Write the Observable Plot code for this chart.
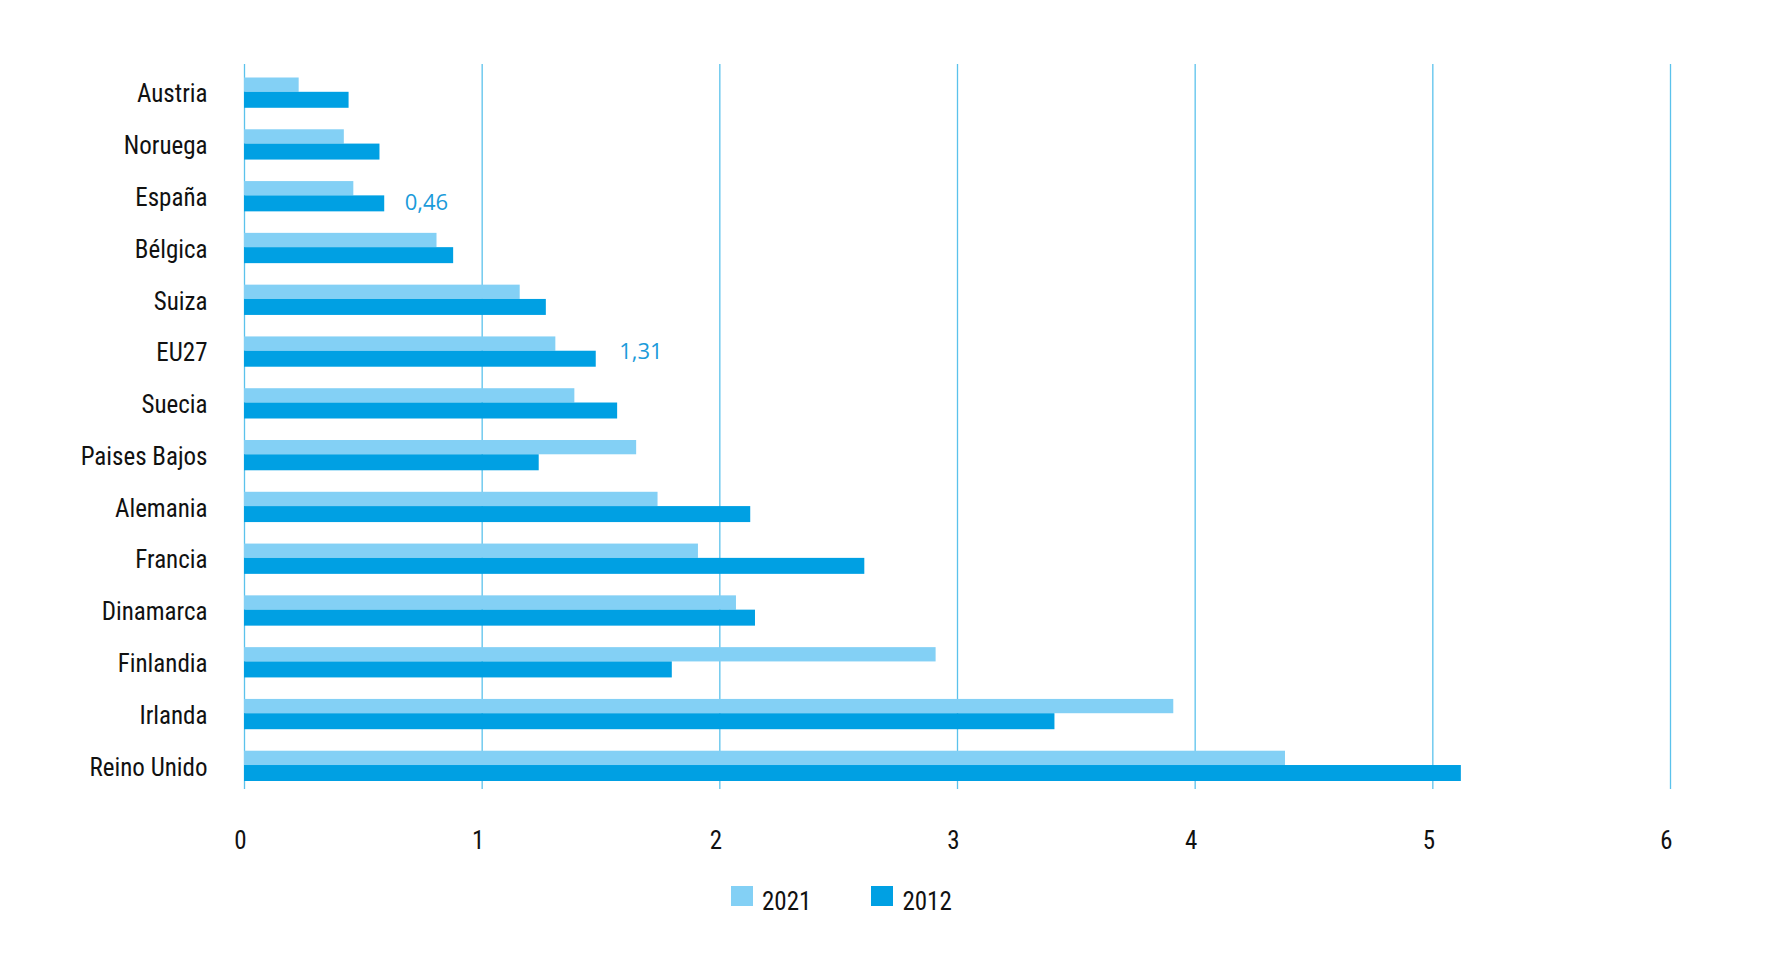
<!DOCTYPE html>
<html>
<head>
<meta charset="utf-8">
<script src="https://cdn.jsdelivr.net/npm/d3@7"></script>
<script src="https://cdn.jsdelivr.net/npm/@observablehq/plot@0.6"></script>
<style>
  html, body { margin: 0; padding: 0; background: #fff; }
  body { width: 1772px; height: 971px; position: relative; overflow: hidden; }
  #chart { position: absolute; left: 0; top: 0; }
  #chart svg text { font-stretch: condensed; }
  #chart svg text.ann { font-stretch: normal; }
  #legend { position: absolute; left: 731px; top: 886px; display: flex; align-items: flex-start;
    font-family: "Roboto Condensed", "Roboto", sans-serif; font-stretch: condensed; font-size: 25px; color: #111; }
  .item { display: flex; align-items: flex-start; }
  .item + .item { margin-left: 60px; }
  .sw { width: 22px; height: 20px; margin-right: 9px; }
  .item span { line-height: 1; margin-top: 3px; }
</style>
</head>
<body>
<div id="chart"></div>
<div id="legend"></div>
<script>
const countries = ["Austria","Noruega","España","Bélgica","Suiza","EU27","Suecia","Paises Bajos","Alemania","Francia","Dinamarca","Finlandia","Irlanda","Reino Unido"];
const values2021 = [0.23, 0.42, 0.46, 0.81, 1.16, 1.31, 1.39, 1.65, 1.74, 1.91, 2.07, 2.91, 3.91, 4.38];
const values2012 = [0.44, 0.57, 0.59, 0.88, 1.27, 1.48, 1.57, 1.24, 2.13, 2.61, 2.15, 1.80, 3.41, 5.12];
const series = ["2021", "2012"];
const seriesColors = ["#83D0F5", "#00A0E3"];
const xTicks = [0, 1, 2, 3, 4, 5, 6];
const annotations = [{country: "España", label: "0,46"}, {country: "EU27", label: "1,31"}];

const rows2021 = countries.map((c, i) => ({country: c, value: values2021[i]}));
const rows2012 = countries.map((c, i) => ({country: c, value: values2012[i]}));
const annRows = annotations.map(a => ({...a, value: values2012[countries.indexOf(a.country)]}));
const annDy = [9, 3];
const annDx = [20, 23];

const font = '"Roboto Condensed", "Roboto", sans-serif';

const chart = Plot.plot({
  width: 1772,
  height: 870,
  marginLeft: 244,
  marginRight: 102,
  marginTop: 64,
  marginBottom: 81,
  style: {fontFamily: font, fontSize: "25px", color: "#111", background: "#fff"},
  x: {domain: [0, 6], ticks: xTicks, label: null},
  y: {domain: countries, padding: 0, round: false, label: null},
  marks: [
    Plot.ruleX(xTicks, {stroke: "#5BC2EC", strokeWidth: 1.3}),
    Plot.barX(rows2021, {y: "country", x: "value", fill: seriesColors[0], insetTop: 13.5, insetBottom: 24}),
    Plot.barX(rows2012, {y: "country", x: "value", fill: seriesColors[1], insetTop: 27.8, insetBottom: 8}),
    ...annRows.map((a, i) => Plot.text([a], {y: "country", x: "value", text: "label", dx: annDx[i], dy: annDy[i], textAnchor: "start",
      fill: "#1A9BDA", fontSize: 22, fontFamily: '"Open Sans", "Noto Sans", sans-serif'})),
    Plot.axisX({ticks: xTicks, tickFormat: d => String(d), tickSize: 0, tickPadding: 42, dx: -4, fontSize: 25}),
    Plot.axisY({tickSize: 0, tickPadding: 37, dy: 4, fontSize: 25})
  ]
});
document.getElementById("chart").appendChild(chart);
const annLabels = new Set(annotations.map(a => a.label));
d3.select(chart).selectAll("text").filter(function() { return annLabels.has(this.textContent); })
  .classed("ann", true).style("font-stretch", "normal");

const legend = document.getElementById("legend");
series.forEach((s, i) => {
  const item = document.createElement("div");
  item.className = "item";
  const sw = document.createElement("div");
  sw.className = "sw";
  sw.style.background = seriesColors[i];
  const t = document.createElement("span");
  t.textContent = s;
  item.appendChild(sw); item.appendChild(t);
  legend.appendChild(item);
});
</script>
</body>
</html>
